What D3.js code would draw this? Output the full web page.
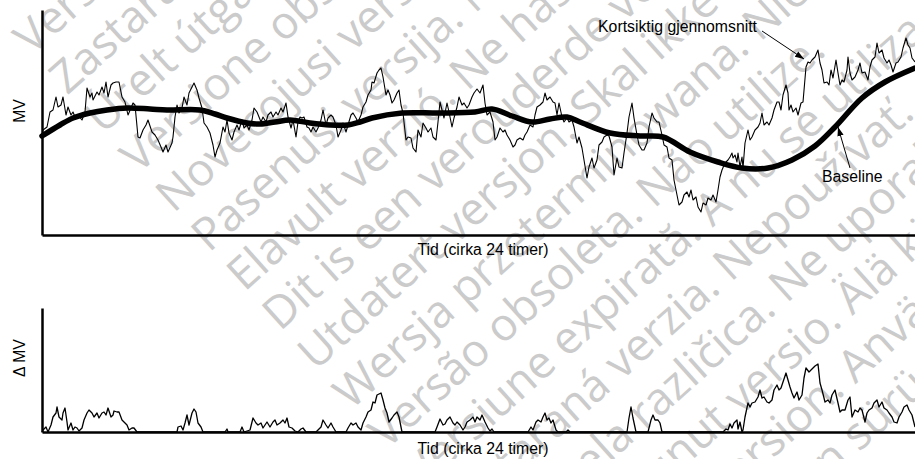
<!DOCTYPE html>
<html>
<head>
<meta charset="utf-8">
<script src="https://cdn.jsdelivr.net/npm/d3@7"></script>
<style>
html,body{margin:0;padding:0;background:#fff;overflow:hidden}
svg{display:block}
</style>
</head>
<body>
<svg id="chart" width="915" height="459"></svg>
<script>
// ---------- DATA ----------
// Short-term average (MV), time in samples (0..873 ≈ 24 h)
const shortT = [0,1,5,8,11,14,16,19,21,24,26,29,31,33,36,40,43,45,48,50,51,55,57,60,62,64,66,69,71,74,77,80,83,86,89,91,93,96,98,101,104,106,110,113,116,119,121,124,126,130,131,133,135,137,140,142,145,147,150,152,155,157,160,162,165,168,171,173,175,178,181,183,185,187,190,192,195,197,200,202,205,207,210,212,215,217,219,221,224,226,229,231,234,236,239,241,244,246,249,251,254,256,258,260,262,265,267,269,271,274,276,279,281,284,286,289,291,294,296,299,301,304,306,309,311,314,316,319,321,324,326,329,330,332,335,337,339,341,344,346,348,350,352,355,357,359,361,364,366,369,371,374,376,379,381,384,386,389,391,394,396,398,400,402,405,407,410,412,415,417,420,422,425,427,430,432,435,438,441,443,445,448,451,453,455,458,461,463,465,468,471,473,475,478,481,483,485,488,491,493,495,498,501,503,505,508,511,513,515,517,520,522,525,527,530,532,535,537,540,542,545,547,550,552,555,557,560,562,565,567,570,572,575,577,580,582,585,587,590,592,595,597,600,602,605,607,610,612,615,617,620,622,625,627,630,632,635,637,640,642,645,647,649,651,654,656,659,661,664,666,669,671,674,676,678,680,683,686,688,690,691,693,695,696,698,700,701,703,706,708,710,713,716,718,720,722,725,727,730,732,735,737,739,741,744,746,747,749,751,754,756,759,761,764,766,768,770,773,776,778,780,782,785,787,789,791,794,796,798,800,802,805,806,808,810,813,816,818,820,823,826,828,830,833,835,837,840,842,845,847,849,851,854,856,859,861,864,866,868,870,873];
const shortV = [100,105,108,123,125,138,128,130,138,120,128,120,123,118,120,115,123,147,138,142,135,143,140,148,142,153,138,150,152,153,153,138,133,120,127,132,130,98,97,105,110,115,103,100,95,88,83,90,83,92,98,118,130,122,127,138,130,142,148,152,145,137,127,112,108,102,90,78,85,92,108,103,115,102,95,103,110,105,115,107,110,105,115,127,123,118,113,118,113,120,123,118,123,120,127,123,132,118,107,115,98,113,118,117,118,108,107,103,108,103,107,115,125,110,117,120,118,110,98,105,112,103,110,120,122,117,113,120,128,133,140,145,153,152,162,165,167,158,140,145,140,132,135,142,145,130,122,95,98,97,87,83,105,98,112,107,103,107,98,95,113,133,125,117,132,123,108,117,128,138,130,132,127,130,138,142,146,142,150,132,120,123,113,95,98,107,103,105,100,95,88,90,95,97,95,100,103,110,108,120,128,130,133,142,135,138,133,132,120,132,118,113,117,113,115,108,92,98,87,75,57,68,77,67,75,90,93,98,100,99,88,60,77,68,67,82,102,118,132,117,100,90,85,85,92,108,122,117,113,113,100,90,88,77,75,55,40,30,33,40,43,38,45,35,38,28,23,32,30,37,35,40,33,45,58,65,72,75,78,82,77,80,73,82,68,78,67,92,105,95,98,105,108,112,122,110,113,110,117,125,133,133,125,140,150,142,125,130,123,127,120,132,133,168,173,172,175,178,185,172,165,152,153,150,165,157,175,162,150,155,153,165,178,162,155,158,165,172,162,163,155,168,175,178,192,182,185,177,172,175,170,163,172,173,178,187,197,190,187,177,173];

// Baseline (MV)
const baseT = [0,18,31,48,65,85,108,125,158,173,185,205,218,233,248,268,288,306,318,330,360,398,433,450,470,490,508,525,538,568,598,621,648,676,700,726,750,773,793,820,843,873];
const baseV = [99,110,117,122,125,127,126,125,125,121,117,112,111,113,115,112,110,110,113,117,122,122,123,126,119,113,116,118,113,102,99,98,83,73,67,67,75,89,108,137,153,167];

// Delta MV
const deltaT = [0,1,4,6,9,11,14,15,17,20,21,23,25,26,29,31,33,35,37,40,42,45,47,50,52,55,57,60,62,64,66,69,71,72,75,77,80,82,85,87,90,92,95,135,136,139,141,143,145,147,150,152,154,156,159,161,183,185,186,198,200,202,208,211,214,216,219,221,223,225,228,231,233,235,238,241,243,245,247,250,253,256,259,261,264,274,276,279,281,284,286,289,291,294,304,306,309,311,314,316,319,321,324,326,329,331,333,335,337,339,341,343,345,347,350,352,355,357,360,393,395,398,401,403,405,408,411,413,415,418,421,423,425,428,431,433,435,438,440,443,446,448,450,452,486,489,491,494,496,499,501,503,505,507,509,511,514,516,524,526,528,585,587,589,591,594,606,609,611,613,616,618,620,681,684,686,688,690,692,695,696,698,700,701,703,706,708,710,713,716,718,720,722,725,727,730,732,735,737,739,741,744,746,748,750,752,755,757,760,762,764,767,770,773,776,778,780,783,786,788,790,793,796,798,800,803,806,808,810,813,816,818,820,823,825,827,830,832,835,837,840,842,845,847,850,852,855,857,860,862,865,867,870,872,873];
const deltaV = [0,2,5,0,7,15,19,25,15,12,19,24,10,2,9,2,5,4,1,4,12,19,22,19,15,19,14,19,20,17,24,15,17,21,20,20,12,10,7,2,4,4,0,0,5,6,2,9,17,7,19,23,20,9,5,0,0,3,0,0,5,0,2,14,9,7,9,4,7,10,5,10,12,7,9,12,9,14,5,4,1,0,3,4,0,0,2,5,12,7,4,9,5,0,0,4,9,7,9,5,2,9,15,20,22,30,29,37,38,39,32,24,19,10,14,17,20,15,0,0,5,13,7,8,12,15,9,7,10,7,2,5,10,12,15,10,15,12,17,10,4,1,3,0,0,5,2,10,12,10,15,19,12,14,9,12,2,0,0,2,0,0,14,25,14,0,0,12,17,12,12,9,0,0,3,2,8,4,9,12,3,10,0,2,15,29,25,29,30,35,42,34,35,30,29,32,42,47,42,44,50,59,52,45,39,34,40,32,37,54,64,60,63,66,68,49,42,30,32,29,37,42,29,20,22,22,32,35,15,22,20,24,22,10,19,22,24,29,32,25,30,24,22,19,15,10,9,15,20,25,27,22,17,9,5];

// Texts
const yLabelTop = "MV";
const yLabelBottom = "\u0394 MV";
const xLabel = "Tid (cirka 24 timer)";
const shortLabel = "Kortsiktig gjennomsnitt";
const baseLabel = "Baseline";
const watermarkLines = [
  "Versión obsoleta. No utilizar.",
  "Zastaralá verze. Nepoužívat.",
  "Úrelt útgáfa. Notið ekki.",
  "Versione obsoleta. Non utilizzare.",
  "Novecojusi versija. Neizmantot.",
  "Pasenusi versija. Nenaudokite.",
  "Elavult verzió. Ne használja!",
  "Dit is een verouderde versie. Niet gebruiken.",
  "Utdatert versjon. Skal ikke brukes.",
  "Wersja przeterminowana. Nie używać.",
  "Versão obsoleta. Não utilize.",
  "Versiune expirată. A nu se utiliza.",
  "Zastaraná verzia. Nepoužívať.",
  "Zastarela različica. Ne uporabite.",
  "Vanhentunut versio. Älä käytä.",
  "Föråldrad version. Använd ej.",
  "Güncel olmayan sürüm. Kullanmayın."
];

// ---------- DRAW ----------
const svg = d3.select("#chart");
const FONT = "'Liberation Sans', Arial, Helvetica, sans-serif";
const FS = 15.8;

// watermark (behind)
const wm = svg.append("g").attr("class","watermark");
const ang = 42 * Math.PI / 180;
const wmStep = 53;
const wmRef = [280, 332], wmRefIndex = 7;
watermarkLines.forEach((s, i) => {
  const k = i - wmRefIndex;
  const x0 = wmRef[0] + k * wmStep * Math.sin(ang);
  const y0 = wmRef[1] + k * wmStep * Math.cos(ang);
  wm.append("text")
    .attr("transform", `translate(${x0},${y0}) rotate(-42)`)
    .attr("font-family", "'Open Sans', sans-serif")
    .attr("font-size", 45)
    .attr("fill", "#cbcbcb")
    .text(s);
});

const x = d3.scaleLinear().domain([0, 873]).range([42, 915]);
const yTop = d3.scaleLinear().domain([0, 225]).range([235, 10]);
const yBot = d3.scaleLinear().domain([0, 124]).range([432, 308]);

const shortData = shortT.map((t, i) => ({t, v: shortV[i]}));
const baseData = baseT.map((t, i) => ({t, v: baseV[i]}));
const deltaData = deltaT.map((t, i) => ({t, v: deltaV[i]}));

// lines
svg.append("path").datum(shortData)
  .attr("fill","none").attr("stroke","#000").attr("stroke-width",1.1)
  .attr("stroke-linejoin","round")
  .attr("d", d3.line().x(d => x(d.t)).y(d => yTop(d.v)));

svg.append("path").datum(baseData)
  .attr("fill","none").attr("stroke","#000").attr("stroke-width",5.5)
  .attr("stroke-linecap","round")
  .attr("d", d3.line().curve(d3.curveCatmullRom.alpha(0.5)).x(d => x(d.t)).y(d => yTop(d.v)));

svg.append("path").datum(deltaData)
  .attr("fill","none").attr("stroke","#000").attr("stroke-width",1.3)
  .attr("stroke-linejoin","round")
  .attr("d", d3.line().x(d => x(d.t)).y(d => yBot(d.v)));

// axes
function drawAxes(yScale) {
  const gx = svg.append("g").attr("transform", `translate(0,${yScale(0)})`)
    .call(d3.axisBottom(x).ticks(0).tickSizeOuter(0));
  const gy = svg.append("g").attr("transform", `translate(${x(0)},0)`)
    .call(d3.axisLeft(yScale).ticks(0).tickSizeOuter(0));
  [gx, gy].forEach(g => g.select(".domain").attr("stroke","#000").attr("stroke-width",2.5));
}
drawAxes(yTop);
drawAxes(yBot);

// axis labels
function label(txt, tx, ty, rot) {
  svg.append("text")
    .attr("transform", `translate(${tx},${ty})` + (rot ? ` rotate(${rot})` : ""))
    .attr("text-anchor","middle")
    .attr("font-family", FONT).attr("font-size", FS).attr("fill","#000")
    .text(txt);
}
label(yLabelTop, 25, 111, -90);
label(yLabelBottom, 25, 358, -90);
label(xLabel, 483, 255, 0);
label(xLabel, 483, 454, 0);

// annotations
const defs = svg.append("defs");
defs.append("marker").attr("id","arr").attr("viewBox","0 0 10 10")
  .attr("refX",10).attr("refY",5).attr("markerWidth",9).attr("markerHeight",9)
  .attr("markerUnits","userSpaceOnUse").attr("orient","auto")
  .append("path").attr("d","M0,1.5L10,5L0,8.5Z").attr("fill","#000");

const shortTip = {t: 762, v: 176};
const baseTip = {t: 796, v: 108};

svg.append("text").attr("x", 757).attr("y", 32).attr("text-anchor","end")
  .attr("font-family", FONT).attr("font-size", FS).text(shortLabel);
svg.append("line").attr("x1", 762).attr("y1", 31)
  .attr("x2", x(shortTip.t)).attr("y2", yTop(shortTip.v))
  .attr("stroke","#000").attr("stroke-width",1).attr("marker-end","url(#arr)");

svg.append("text").attr("x", 822).attr("y", 182)
  .attr("font-family", FONT).attr("font-size", FS).text(baseLabel);
svg.append("line").attr("x1", 850).attr("y1", 168)
  .attr("x2", x(baseTip.t)).attr("y2", yTop(baseTip.v))
  .attr("stroke","#000").attr("stroke-width",1).attr("marker-end","url(#arr)");
</script>
</body>
</html>
